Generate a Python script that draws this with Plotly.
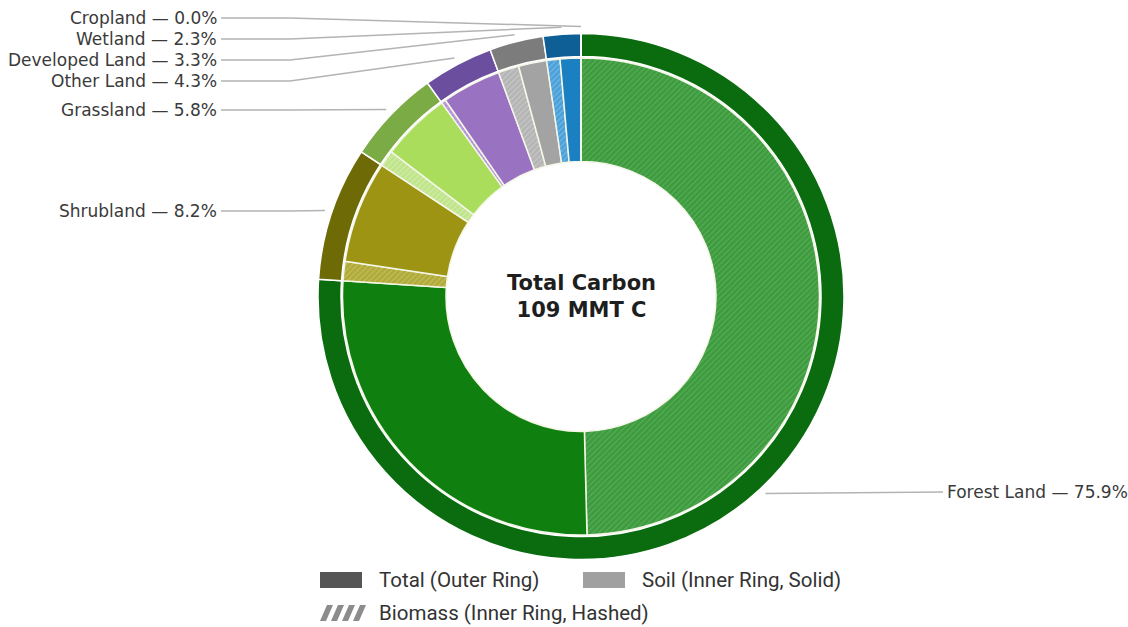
import math
import plotly.graph_objects as go

# ---------------- data ----------------
categories = ["Forest Land", "Shrubland", "Grassland", "Other Land",
              "Developed Land", "Wetland", "Cropland"]
total_pct = [75.9, 8.2, 5.8, 4.3, 3.3, 2.3, 0.0]
biomass_pct = [49.5, 1.3, 1.1, 0.3, 1.4, 0.9, 0.0]
soil_pct = [26.4, 6.9, 4.7, 4.0, 1.9, 1.4, 0.0]
center_title = "Total Carbon"
center_value = "109 MMT C"
legend_labels = ["Total (Outer Ring)", "Soil (Inner Ring, Solid)", "Biomass (Inner Ring, Hashed)"]

# ---------------- styles ----------------
outer_colors = ["#0b6b0f", "#6e6a06", "#7bab45", "#6b4f9e", "#7c7c7c", "#0f5f97", "#c8b070"]
soil_colors = ["#0f800f", "#9c9412", "#aadd5c", "#9a72c2", "#a3a3a3", "#1a80c2", "#d8c080"]
biomass_colors = ["#3e9a3e", "#b0aa3a", "#bfe48a", "#b392d6", "#b4b4b4", "#4aa0d8", "#e0d0a0"]
hatch_colors = ["#6cc06c", "#d6d07a", "#e2f5c4", "#d2bdf0", "#dadada", "#9ccdf0", "#f0e8c8"]

W, H = 1128, 627
CX, CY = 581, 296.5          # pie centre in pixels
R_OUT, R_OUT_IN = 263, 240   # outer ring radii
R_IN, R_HOLE = 238.5, 135    # inner ring radii


def fx(x):
    return x / W


def fy(y):
    return 1 - y / H


def dom(r):
    return dict(x=[fx(CX - r), fx(CX + r)], y=[fy(CY + r), fy(CY - r)])


fig = go.Figure()

# outer ring
fig.add_trace(go.Pie(
    labels=categories, values=total_pct, sort=False, direction="clockwise",
    rotation=0, hole=R_OUT_IN / R_OUT, domain=dom(R_OUT),
    marker=dict(colors=outer_colors, line=dict(color="white", width=1.5)),
    textinfo="none", hoverinfo="label+value", showlegend=False,
))

# inner ring: biomass (hashed) then soil (solid) per category
in_labels, in_values, in_colors, in_shapes, in_fg = [], [], [], [], []
for i, c in enumerate(categories):
    in_labels += [c + " – Biomass", c + " – Soil"]
    in_values += [biomass_pct[i], soil_pct[i]]
    in_colors += [biomass_colors[i], soil_colors[i]]
    in_shapes += ["/", ""]
    in_fg += [hatch_colors[i], soil_colors[i]]

fig.add_trace(go.Pie(
    labels=in_labels, values=in_values, sort=False, direction="clockwise",
    rotation=0, hole=R_HOLE / R_IN, domain=dom(R_IN),
    marker=dict(colors=in_colors, line=dict(color="#f4f6e8", width=1.5),
                pattern=dict(shape=in_shapes, fgcolor=in_fg, fillmode="overlay",
                             size=4, solidity=0.3)),
    textinfo="none", hoverinfo="label+value", showlegend=False,
))

# ---------------- labels with leader lines ----------------
label_y = [492, 211, 110, 81, 60, 39, 18]   # layout positions (px)
LEFT_TEXT_X, KINK_X, RIGHT_TEXT_X = 219, 290, 945
total_sum = sum(total_pct)
shapes, annotations = [], []
cum = 0.0
for i, c in enumerate(categories):
    mid = (cum + total_pct[i] / 2) / total_sum * 2 * math.pi
    cum += total_pct[i]
    r = R_OUT + 7
    px = CX + r * math.sin(mid)
    py = CY - r * math.cos(mid)
    txt = f"{c} — {total_pct[i]:.1f}%"
    ly = label_y[i]
    if px > CX:  # right side label
        path = f"M {fx(px)},{fy(py)} L {fx(RIGHT_TEXT_X - 2)},{fy(ly)}"
        annotations.append(dict(x=fx(RIGHT_TEXT_X), y=fy(ly), xref="paper", yref="paper",
                                text=txt, showarrow=False, xanchor="left", yanchor="middle",
                                font=dict(family="DejaVu Sans", size=17, color="#3a3a3a")))
    else:
        path = (f"M {fx(LEFT_TEXT_X + 2)},{fy(ly)} L {fx(KINK_X)},{fy(ly)} "
                f"L {fx(px)},{fy(py)}")
        annotations.append(dict(x=fx(LEFT_TEXT_X), y=fy(ly), xref="paper", yref="paper",
                                text=txt, showarrow=False, xanchor="right", yanchor="middle",
                                font=dict(family="DejaVu Sans", size=17, color="#3a3a3a")))
    shapes.append(dict(type="path", path=path, xref="paper", yref="paper",
                       line=dict(color="#b3b3b3", width=1.5), layer="below"))

# centre text
annotations.append(dict(x=fx(CX), y=fy(CY), xref="paper", yref="paper",
                        text=f"<b>{center_title}</b><br><b>{center_value}</b>",
                        showarrow=False, xanchor="center", yanchor="middle",
                        font=dict(family="DejaVu Sans", size=21, color="#1e1e1e")))

# ---------------- custom legend ----------------
leg_items = [(320, 580, "#555555", "solid"), (583, 580, "#a0a0a0", "solid"),
             (320, 613, "#8c8c8c", "hatch")]
for (x0, yc, col, kind), lab in zip(leg_items, legend_labels):
    if kind == "solid":
        shapes.append(dict(type="rect", xref="paper", yref="paper",
                           x0=fx(x0), x1=fx(x0 + 42), y0=fy(yc + 8), y1=fy(yc - 8),
                           fillcolor=col, line=dict(width=0)))
    else:
        for k in range(4):
            bx = x0 + k * 11
            p = (f"M {fx(bx)},{fy(yc + 8)} L {fx(bx + 6)},{fy(yc + 8)} "
                 f"L {fx(bx + 13)},{fy(yc - 8)} L {fx(bx + 7)},{fy(yc - 8)} Z")
            shapes.append(dict(type="path", path=p, xref="paper", yref="paper",
                               fillcolor=col, line=dict(width=0)))
    annotations.append(dict(x=fx(x0 + 57), y=fy(yc), xref="paper", yref="paper",
                            text=lab, showarrow=False, xanchor="left", yanchor="middle",
                            font=dict(family="Roboto", size=20.5, color="#333333")))

fig.update_layout(
    width=W, height=H, margin=dict(l=0, r=0, t=0, b=0),
    paper_bgcolor="white", plot_bgcolor="white", showlegend=False,
    shapes=shapes, annotations=annotations,
)

fig.write_html("out.html", config={"displayModeBar": False},
               post_script="document.body.style.margin='0px';document.body.style.overflow='hidden';")
